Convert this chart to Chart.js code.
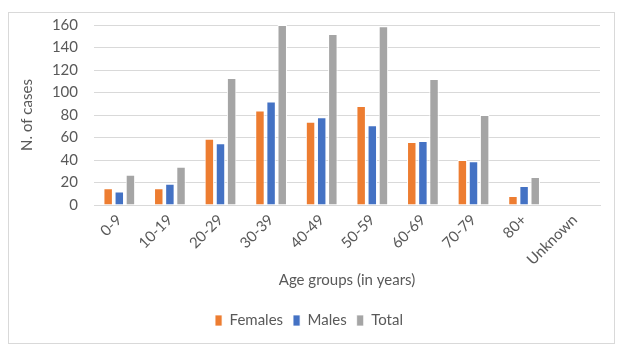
<!DOCTYPE html>
<html>
<head>
<meta charset="utf-8">
<script src="https://cdn.jsdelivr.net/npm/chart.js@4"></script>
<style>
  body { margin: 0; background: #fff; }
  #frame { position: absolute; left: 8px; top: 12px; width: 605px; height: 330px; border: 1px solid #d9d9d9; }
  #wrap { position: absolute; left: 0; top: 0; width: 632px; height: 352px; }
</style>
</head>
<body>
<div id="frame"></div>
<div id="wrap"><canvas id="casesChart" width="632" height="352"></canvas></div>
<script>
// Age groups and case counts
const ageGroups = ['0-9', '10-19', '20-29', '30-39', '40-49', '50-59', '60-69', '70-79', '80+', 'Unknown'];
const females = [15, 15, 59, 84, 74, 88, 56, 40, 8, 0];
const males = [12, 19, 55, 92, 78, 71, 57, 39, 17, 0];
const total = [27, 34, 113, 160, 152, 159, 112, 80, 25, 0];
const yTicks = [0, 20, 40, 60, 80, 100, 120, 140, 160];

const textColor = '#595959';
const gridColor = '#d9d9d9';
const font = { family: 'Lato', size: 15 };

const ctx = document.getElementById('casesChart').getContext('2d');
const casesChart = new Chart(ctx, {
    type: 'bar',
    data: {
        labels: ageGroups,
        datasets: [
            { label: 'Females', data: females, backgroundColor: '#ED7D31' },
            { label: 'Males', data: males, backgroundColor: '#4472C4' },
            { label: 'Total', data: total, backgroundColor: '#A5A5A5' }
        ]
    },
    options: {
        responsive: false,
        animation: false,
        layout: { padding: { left: 18, right: 32, top: 25, bottom: 14 } },
        datasets: {
            bar: { categoryPercentage: 0.66, barPercentage: 0.85, borderColor: '#ffffff', borderWidth: { left: 1, right: 1, top: 1 } }
        },
        plugins: {
            legend: {
                position: 'bottom',
                labels: { color: textColor, font: font, boxWidth: 7, boxHeight: 11, padding: 10 }
            },
            tooltip: { enabled: false }
        },
        scales: {
            x: {
                grid: { display: false, drawTicks: false },
                border: { color: gridColor, width: 1 },
                ticks: { color: textColor, font: font, maxRotation: 45, minRotation: 45, padding: 6 },
                title: { display: true, text: 'Age groups (in years)', color: textColor, font: font, padding: { top: 2, bottom: 14 } },
                afterFit: s => { s.height = 98; }
            },
            y: {
                min: 0,
                max: 160,
                afterBuildTicks: s => { s.ticks = yTicks.map(v => ({ value: v })); },
                grid: { color: gridColor, drawTicks: false },
                border: { display: false },
                ticks: { color: textColor, font: font, padding: 16 },
                title: { display: true, text: 'N. of cases', color: textColor, font: font, padding: { top: 0, bottom: 8 } },
                afterFit: s => { s.width = 76; }
            }
        }
    }
});
</script>
</body>
</html>
